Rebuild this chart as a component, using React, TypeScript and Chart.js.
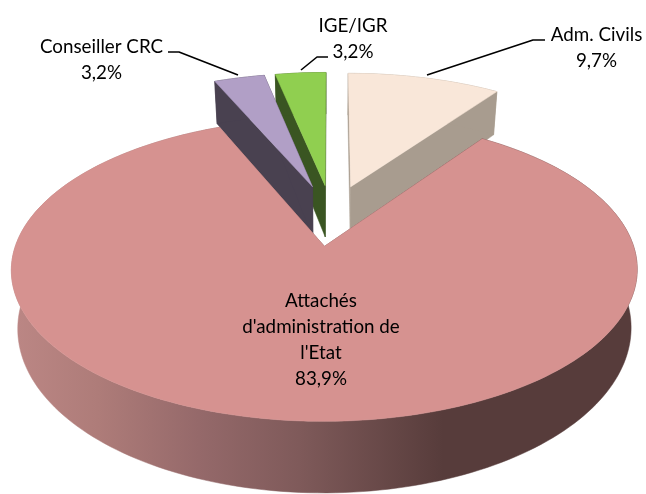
import React, { useEffect, useRef } from "react";
import { Chart, registerables } from "chart.js";

Chart.register(...registerables);

const categories = ["Adm. Civils", "Attachés d'administration de l'Etat", "Conseiller CRC", "IGE/IGR"];
const values = [9.7, 83.9, 3.2, 3.2];
const labelLines = [["Adm. Civils"], ["Attachés", "d'administration de", "l'Etat"], ["Conseiller CRC"], ["IGE/IGR"]];
const topColors = ["#F9E7D9", "#D69290", "#B19FC6", "#90CF50"];
const wallColors = ["#A89C8F", "#8A5E5E", "#494150", "#3A5522"];

const FONT = '18.8px Lato, "Open Sans", sans-serif';
const labelAnchors = [
  [596.5, 41],
  [321, 307],
  [101.5, 53],
  [353, 32],
];
const LINE_STEP = 26;
const leaders = [
  [[545, 40], [533, 40], [427, 75]],
  [[168, 52], [179, 52], [238, 75]],
  [[328, 57], [317, 57], [301, 70]],
];

// Camera used to lay the pie's plane on the page.
const CAM = { x: 331.5, y: 215, a: 299, b: 138.3, p: 0.15 };
const DEPTH = { base: 51, grow: 0.086, ref: 182, shrink: 0.98 };
const DRAW_ORDER = [3, 2, 0, 1];

type Pt = [number, number];
const project = (u: number, v: number): Pt => {
  const w = 1 - CAM.p * v;
  return [CAM.x + (CAM.a * u) / w, CAM.y + (CAM.b * v) / w];
};
const drop = ([x, y]: Pt): Pt => [
  CAM.x + (x - CAM.x) * DEPTH.shrink,
  y + DEPTH.base + DEPTH.grow * (y - DEPTH.ref),
];

const fillPoly = (ctx: CanvasRenderingContext2D, pts: Pt[], style: any) => {
  ctx.beginPath();
  pts.forEach(([x, y], i) => (i ? ctx.lineTo(x, y) : ctx.moveTo(x, y)));
  ctx.closePath();
  ctx.fillStyle = style;
  ctx.fill();
  ctx.strokeStyle = style;
  ctx.lineWidth = 0.5;
  ctx.stroke();
};

const pie3d = {
  id: "pie3d",
  beforeDatasetsDraw(chart: any) {
    const ctx: CanvasRenderingContext2D = chart.ctx;
    const arcs = chart.getDatasetMeta(0).data;
    const wallGradient = ctx.createLinearGradient(10, 0, 638, 0);
    wallGradient.addColorStop(0, "#BC8785");
    wallGradient.addColorStop(0.14, "#AE7C79");
    wallGradient.addColorStop(0.3, "#95696A");
    wallGradient.addColorStop(0.46, "#7F5A5A");
    wallGradient.addColorStop(0.69, "#573C3B");
    wallGradient.addColorStop(1, "#573C3B");

    ctx.save();
    for (const i of DRAW_ORDER) {
      const arc = arcs[i];
      const { startAngle, endAngle, outerRadius } = arc.getProps(["startAngle", "endAngle", "outerRadius"]);
      const d = arc.options.offset / outerRadius;
      const mid = (startAngle + endAngle) / 2;
      const cu = Math.cos(mid) * d;
      const cv = Math.sin(mid) * d;
      const apex = project(cu, cv);
      const rim: Pt[] = [];
      const steps = Math.max(8, Math.ceil((endAngle - startAngle) * 40));
      for (let s = 0; s <= steps; s++) {
        const t = startAngle + ((endAngle - startAngle) * s) / steps;
        rim.push(project(cu + Math.cos(t), cv + Math.sin(t)));
      }
      const wall = i === 1 ? wallGradient : wallColors[i];
      const first = rim[0];
      const last = rim[rim.length - 1];
      fillPoly(ctx, [apex, first, drop(first), drop(apex)], wall);
      fillPoly(ctx, [apex, last, drop(last), drop(apex)], wall);
      fillPoly(ctx, [...rim, ...rim.map(drop).reverse()], wall);
      fillPoly(ctx, [apex, ...rim], topColors[i]);
    }
    ctx.restore();
    return false;
  },
  afterDraw(chart: any) {
    const ctx: CanvasRenderingContext2D = chart.ctx;
    ctx.save();
    ctx.strokeStyle = "#000000";
    ctx.lineWidth = 1.6;
    ctx.lineJoin = "round";
    for (const line of leaders) {
      ctx.beginPath();
      line.forEach(([x, y], i) => (i ? ctx.lineTo(x, y) : ctx.moveTo(x, y)));
      ctx.stroke();
    }
    ctx.font = FONT;
    ctx.fillStyle = "#000000";
    ctx.textAlign = "center";
    ctx.textBaseline = "alphabetic";
    labelLines.forEach((lines, i) => {
      const [x, y] = labelAnchors[i];
      const all = [...lines, values[i].toFixed(1).replace(".", ",") + "%"];
      all.forEach((t, k) => ctx.fillText(t, x, y + k * LINE_STEP));
    });
    ctx.restore();
  },
};

export default function App() {
  const ref = useRef<HTMLCanvasElement>(null);
  useEffect(() => {
    const chart = new Chart(ref.current!, {
      type: "pie",
      data: {
        labels: categories,
        datasets: [{ data: values, backgroundColor: topColors, borderWidth: 0, offset: 49 }],
      },
      options: {
        animation: false,
        responsive: false,
        plugins: { legend: { display: false }, tooltip: { enabled: false } },
      },
      plugins: [pie3d],
    } as any);
    return () => chart.destroy();
  }, []);
  return (
    <canvas
      ref={ref}
      width={646}
      height={494}
      style={{ position: "absolute", left: 0, top: 0, width: 646, height: 494, display: "block" }}
    />
  );
}
